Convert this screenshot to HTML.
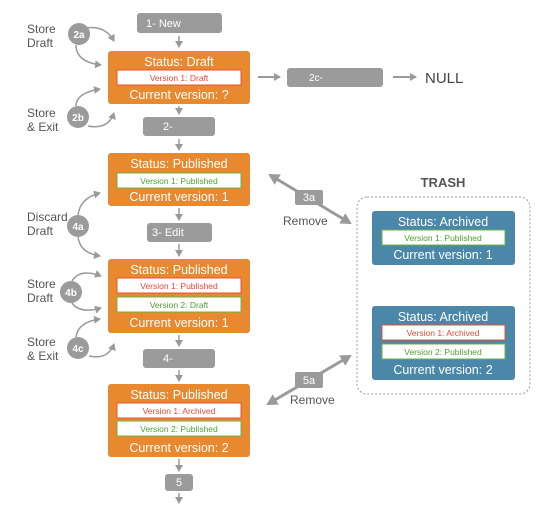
<!DOCTYPE html>
<html><head><meta charset="utf-8"><style>
html,body{margin:0;padding:0;background:#fff;}
svg{display:block;font-family:"Liberation Sans",sans-serif;}
</style></head><body>
<svg width="551" height="508" viewBox="0 0 551 508">
<defs>
<marker id="a" markerWidth="8" markerHeight="8" refX="6" refY="4" orient="auto" markerUnits="userSpaceOnUse"><path d="M0,0 L7,4 L0,8 z" fill="#9a9a9a"/></marker>
<marker id="b" markerWidth="12" markerHeight="12" refX="9" refY="6" orient="auto" markerUnits="userSpaceOnUse"><path d="M0,0 L11,6 L0,12 z" fill="#9a9a9a"/></marker>
<marker id="bs" markerWidth="12" markerHeight="12" refX="2" refY="6" orient="auto" markerUnits="userSpaceOnUse"><path d="M11,0 L0,6 L11,12 z" fill="#9a9a9a"/></marker>
</defs>
<g stroke="#9a9a9a" stroke-width="3" fill="none">
<line x1="270" y1="175" x2="350" y2="223" marker-end="url(#b)" marker-start="url(#bs)"/>
<line x1="350" y1="356" x2="268" y2="404" marker-end="url(#b)" marker-start="url(#bs)"/>
</g>
<g fill="#9b9b9b">
<rect x="137" y="13" width="85" height="20" rx="3"/>
<rect x="143" y="117" width="72" height="19" rx="3"/>
<rect x="147" y="223" width="65" height="19" rx="3"/>
<rect x="143" y="349" width="72" height="19" rx="3"/>
<rect x="165" y="474" width="28" height="17" rx="3"/>
<rect x="287" y="68" width="96" height="19" rx="3"/>
<rect x="295" y="190" width="28" height="15" rx="2"/>
<rect x="295" y="372" width="28" height="16" rx="2"/>
</g>
<g fill="#fff" font-size="11">
<text x="146" y="27">1- New</text>
<text x="163" y="130">2-</text>
<text x="152" y="236">3- Edit</text>
<text x="163" y="362">4-</text>
<text x="179" y="486" text-anchor="middle">5</text>
<text x="309" y="81" font-size="10">2c-</text>
<text x="309" y="201" text-anchor="middle">3a</text>
<text x="309" y="384" text-anchor="middle">5a</text>
</g>
<g stroke="#9a9a9a" stroke-width="1.5" fill="none" marker-end="url(#a)">
<line x1="179" y1="36" x2="179" y2="47"/>
<line x1="179" y1="106" x2="179" y2="114"/>
<line x1="179" y1="139" x2="179" y2="150"/>
<line x1="179" y1="208" x2="179" y2="220"/>
<line x1="179" y1="244" x2="179" y2="256"/>
<line x1="179" y1="335" x2="179" y2="346"/>
<line x1="179" y1="370" x2="179" y2="381"/>
<line x1="179" y1="459" x2="179" y2="471"/>
<line x1="179" y1="493" x2="179" y2="503"/>
<line x1="258" y1="77" x2="280" y2="77" stroke-width="2"/>
<line x1="393" y1="77" x2="416" y2="77" stroke-width="2"/>
<path d="M86,28 Q105,25 114,41"/>
<path d="M76,45 Q76,62 101,65"/>
<path d="M76,106 Q76,93 100,89"/>
<path d="M88,126 Q108,130 114,113"/>
<path d="M78,215 Q80,198 100,193"/>
<path d="M78,237 Q80,253 100,256"/>
<path d="M72,281 Q80,268 101,276"/>
<path d="M72,303 Q80,314 101,308"/>
<path d="M76,337 Q78,322 100,319"/>
<path d="M89,356 Q108,360 114,344"/>
</g>
<g fill="#9b9b9b">
<circle cx="79" cy="34" r="11"/><circle cx="78" cy="117" r="11"/>
<circle cx="78" cy="226" r="11"/><circle cx="71" cy="292" r="11"/><circle cx="78" cy="348" r="11"/>
</g>
<g fill="#fff" font-size="10" font-weight="bold" text-anchor="middle">
<text x="79" y="38">2a</text><text x="78" y="121">2b</text><text x="78" y="230">4a</text><text x="71" y="296">4b</text><text x="78" y="352">4c</text>
</g>
<g fill="#555" font-size="12">
<text x="27" y="33">Store</text><text x="27" y="47">Draft</text>
<text x="27" y="117">Store</text><text x="27" y="131">&amp; Exit</text>
<text x="27" y="221">Discard</text><text x="27" y="235">Draft</text>
<text x="27" y="288">Store</text><text x="27" y="302">Draft</text>
<text x="27" y="346">Store</text><text x="27" y="360">&amp; Exit</text>
<text x="283" y="225">Remove</text>
<text x="290" y="404">Remove</text>
<text x="425" y="83" font-size="15" fill="#444">NULL</text>
<text x="443" y="187" font-size="13" font-weight="bold" fill="#555" text-anchor="middle">TRASH</text>
</g>
<rect x="357" y="197" width="173" height="197" rx="10" fill="none" stroke="#999" stroke-dasharray="2,2"/>
<g fill="#E8892F">
<rect x="108" y="51" width="142" height="53" rx="3"/>
<rect x="108" y="153" width="142" height="53" rx="3"/>
<rect x="108" y="259" width="142" height="74" rx="3"/>
<rect x="108" y="384" width="142" height="73" rx="3"/>
</g>
<g fill="#4A87A8">
<rect x="372" y="211" width="143" height="54" rx="3"/>
<rect x="372" y="306" width="143" height="74" rx="3"/>
</g>
<g fill="#fff" stroke-width="1">
<rect x="117" y="70" width="124" height="15" stroke="#E8503A"/>
<rect x="117" y="173" width="124" height="15" stroke="#6DB33F"/>
<rect x="117" y="278" width="124" height="15" stroke="#E8503A"/>
<rect x="117" y="297" width="124" height="15" stroke="#6DB33F"/>
<rect x="117" y="403" width="124" height="15" stroke="#E8503A"/>
<rect x="117" y="421" width="124" height="15" stroke="#6DB33F"/>
<rect x="382" y="230" width="123" height="15" stroke="#6DB33F"/>
<rect x="382" y="325" width="123" height="15" stroke="#E8503A"/>
<rect x="382" y="344" width="123" height="15" stroke="#6DB33F"/>
</g>
<g font-size="8.5" text-anchor="middle">
<text x="179" y="81" fill="#E04B35">Version 1: Draft</text>
<text x="179" y="184" fill="#4FA02F">Version 1: Published</text>
<text x="179" y="289" fill="#E04B35">Version 1: Published</text>
<text x="179" y="308" fill="#4FA02F">Version 2: Draft</text>
<text x="179" y="414" fill="#E04B35">Version 1: Archived</text>
<text x="179" y="432" fill="#4FA02F">Version 2: Published</text>
<text x="443" y="241" fill="#4FA02F">Version 1: Published</text>
<text x="443" y="336" fill="#E04B35">Version 1: Archived</text>
<text x="443" y="355" fill="#4FA02F">Version 2: Published</text>
</g>
<g fill="#fff" font-size="12.5" text-anchor="middle">
<text x="179" y="66">Status: Draft</text><text x="179" y="99">Current version: ?</text>
<text x="179" y="168">Status: Published</text><text x="179" y="201">Current version: 1</text>
<text x="179" y="274">Status: Published</text><text x="179" y="327">Current version: 1</text>
<text x="179" y="399">Status: Published</text><text x="179" y="452">Current version: 2</text>
<text x="443" y="226">Status: Archived</text><text x="443" y="259">Current version: 1</text>
<text x="443" y="321">Status: Archived</text><text x="443" y="374">Current version: 2</text>
</g>
</svg>
</body></html>
